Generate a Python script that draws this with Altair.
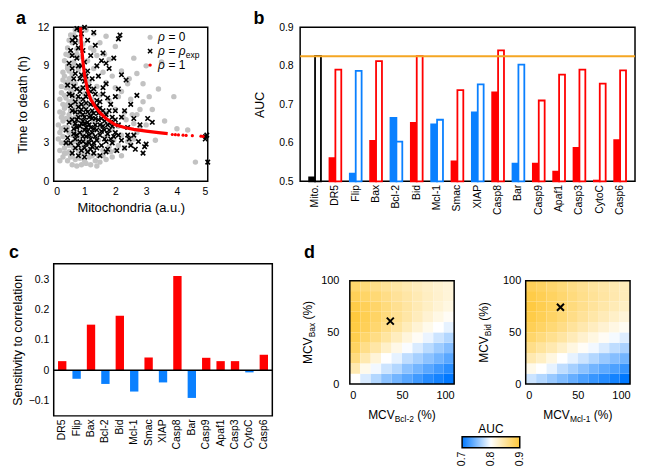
import altair as alt
import pandas as pd

FONT = "Liberation Sans"
RED = "#ff0000"
BLUE = "#0a80ff"
GRAY = "#c2c2c2"
ORANGE = "#f5a623"
HM_BLUE = "#0078ff"
HM_GOLD = "#ffc83a"
XPATH = "M-1,-1L1,1M-1,1L1,-1"

# ---------------- panel a data ----------------
gray_points = [
    (0.45, 1.6), (0.6, 1.3), (0.75, 1.2), (0.9, 1.3), (1.05, 1.4), (1.2, 1.3), (1.35, 1.6), (1.5, 1.5),
    (1.7, 1.7), (0.3, 1.9), (0.55, 1.9), (0.85, 1.8), (1.15, 1.9), (1.45, 2.0), (1.9, 1.9), (2.2, 2.0),
    (0.2, 2.4), (0.35, 2.6), (0.5, 2.3), (0.65, 2.6), (0.8, 2.4), (0.95, 2.7), (1.1, 2.4), (1.3, 2.7),
    (1.6, 2.4), (1.8, 2.7), (2.0, 2.4), (2.3, 2.6), (2.5, 2.9),
    (0.15, 3.3), (0.3, 3.5), (0.45, 3.1), (0.6, 3.6), (0.75, 3.2), (0.9, 3.7), (1.05, 3.3), (1.25, 3.6),
    (1.45, 3.2), (1.7, 3.5), (1.95, 3.2), (2.2, 3.6), (2.45, 3.4), (2.7, 3.8),
    (0.15, 4.4), (0.3, 4.7), (0.45, 4.2), (0.6, 4.6), (0.75, 4.3), (0.9, 4.8), (1.1, 4.4), (1.3, 4.7),
    (1.55, 4.3), (1.8, 4.6), (2.1, 4.3), (2.35, 4.8), (2.6, 4.5),
    (0.2, 5.4), (0.35, 5.7), (0.5, 5.2), (0.65, 5.6), (0.8, 5.3), (1.0, 5.8), (1.2, 5.4), (1.45, 5.7),
    (1.7, 5.3), (2.0, 5.6), (2.3, 5.4), (2.7, 5.2),
    (0.2, 6.4), (0.35, 6.7), (0.5, 6.2), (0.65, 6.6), (0.8, 6.3), (1.0, 6.8), (1.25, 6.4), (1.5, 6.7),
    (1.8, 6.3), (2.1, 6.6), (2.5, 6.4), (2.9, 6.2),
    (0.25, 7.4), (0.4, 7.7), (0.55, 7.2), (0.7, 7.6), (0.9, 7.3), (1.15, 7.8), (1.4, 7.4), (1.7, 7.7),
    (2.0, 7.3), (2.4, 7.6),
    (0.3, 8.5), (0.45, 8.8), (0.6, 8.3), (0.8, 8.7), (1.0, 8.4), (1.3, 8.8), (1.6, 8.5), (2.2, 8.6), (2.7, 8.4),
    (0.35, 9.4), (0.5, 9.8), (0.65, 9.3), (0.85, 9.7), (1.1, 9.4), (1.4, 9.8), (1.8, 9.5), (2.6, 9.6),
    (0.45, 10.4), (0.6, 10.8), (0.75, 10.3), (0.95, 10.7), (1.2, 10.4), (1.5, 10.8), (2.0, 10.5),
    (0.55, 11.4), (0.7, 11.8), (0.9, 11.3), (1.05, 11.8), (1.3, 11.5), (1.7, 11.3),
    (3.0, 4.4), (3.2, 5.6), (3.4, 7.2), (3.0, 9.0), (3.5, 9.3), (3.3, 3.2), (3.6, 4.7), (3.9, 6.6),
    (4.0, 4.1), (4.35, 4.0), (4.6, 1.5), (2.9, 7.6), (3.1, 6.6), (2.8, 5.6),
    (0.25, 3.0), (0.4, 4.0), (0.55, 4.9), (0.7, 5.0), (0.4, 5.9), (0.55, 6.9), (0.3, 6.0), (0.7, 3.9),
    (0.85, 2.1), (1.0, 2.2), (0.6, 2.0), (0.35, 4.2),
    (0.25, 5.0), (0.4, 6.5), (0.3, 7.9), (0.5, 8.0), (0.45, 9.0), (0.6, 7.0), (0.75, 6.0), (0.35, 3.0),
    (0.5, 3.8), (0.65, 4.4), (0.2, 3.8), (0.4, 2.2), (0.7, 1.7), (1.0, 1.6), (1.25, 2.0), (0.55, 10.0),
    (0.2, 1.6), (0.35, 2.2), (0.5, 2.8), (0.65, 3.1), (0.8, 3.5), (0.95, 4.0), (1.1, 3.0), (0.25, 4.1),
    (0.4, 4.9), (0.55, 5.5), (0.7, 6.0), (0.3, 5.3), (0.45, 6.0), (0.6, 6.3), (0.25, 6.9), (0.4, 7.3),
    (0.55, 7.7), (0.35, 8.2), (0.5, 8.6), (0.65, 9.0), (0.4, 9.9), (0.75, 9.9), (0.85, 10.9), (0.65, 11.4),
    (0.5, 11.0), (1.4, 1.2), (1.6, 2.0), (1.85, 2.3), (2.1, 2.8), (2.4, 3.1), (2.6, 3.3), (2.8, 4.2),
    (2.55, 5.2), (2.25, 5.0), (1.9, 4.1), (2.2, 7.0), (2.45, 8.0), (1.9, 8.2), (1.65, 9.9), (1.3, 10.2),
]
cross_points = [
    (0.45, 3.4), (0.5, 4.6), (0.5, 6.8), (0.55, 3.0), (0.6, 5.5), (0.6, 8.8), (0.65, 4.1), (0.65, 7.4),
    (0.7, 3.3), (0.7, 6.2), (0.75, 4.8), (0.75, 9.6), (0.8, 2.8), (0.8, 5.8), (0.8, 10.4), (0.85, 3.8),
    (0.85, 7.0), (0.85, 11.8), (0.9, 4.5), (0.9, 2.4), (0.9, 9.0), (0.95, 5.2), (0.95, 6.4), (0.95, 3.1),
    (1.0, 4.0), (1.0, 7.8), (1.0, 2.6), (1.05, 5.6), (1.05, 3.5), (1.1, 4.6), (1.1, 6.8), (1.1, 8.6),
    (1.15, 3.0), (1.15, 5.0), (1.2, 4.2), (1.2, 6.0), (1.2, 9.8), (1.25, 2.7), (1.25, 3.8), (1.3, 5.3),
    (1.3, 7.2), (1.35, 4.4), (1.35, 10.6), (1.4, 3.2), (1.4, 6.3), (1.45, 4.8), (1.45, 8.2), (1.5, 3.6),
    (1.5, 5.7), (1.55, 2.8), (1.55, 9.4), (1.6, 4.3), (1.6, 6.8), (1.65, 3.3), (1.7, 5.2), (1.7, 7.6),
    (1.75, 2.5), (1.8, 4.0), (1.8, 8.8), (1.85, 6.0), (1.9, 3.0), (1.9, 5.0), (1.95, 9.6), (2.0, 3.8),
    (2.0, 6.6), (2.05, 2.4), (2.1, 4.4), (2.1, 7.2), (2.15, 11.4), (2.1, 11.1), (2.2, 3.2), (2.2, 8.3),
    (2.3, 5.5), (2.3, 2.6), (2.35, 7.9), (2.4, 4.2), (2.45, 3.3), (2.5, 2.8), (2.5, 6.0), (2.6, 3.6),
    (2.6, 4.9), (2.65, 2.5), (2.7, 6.7), (2.75, 3.1), (2.8, 4.4), (2.9, 2.2), (2.95, 2.7), (3.0, 2.9),
    (3.05, 4.9), (3.2, 4.6), (4.93, 3.5), (4.92, 3.3), (4.97, 3.6), (5.0, 1.5),
    (0.5, 9.2), (0.55, 10.2), (0.6, 11.0), (0.7, 10.8), (0.75, 11.9), (0.9, 11.5), (1.0, 12.0),
    (0.6, 9.8), (0.65, 8.0), (1.1, 11.0), (1.3, 11.6), (1.4, 9.0), (1.6, 10.0), (1.7, 9.2), (0.45, 7.5),
    (0.6, 2.2), (0.8, 2.0), (1.0, 1.9), (1.3, 2.2), (1.5, 2.0), (1.7, 2.3), (1.1, 2.3), (0.7, 2.6),
    (0.4, 3.0), (0.4, 4.0),
    (0.75, 3.6), (0.85, 4.3), (0.95, 4.7), (1.05, 4.2), (1.15, 3.6), (1.25, 4.9), (1.35, 3.5), (0.9, 5.6),
    (1.0, 5.0), (1.1, 5.4), (1.2, 3.3), (1.3, 4.1), (0.8, 6.6), (0.7, 5.4), (1.4, 5.9), (1.55, 4.9),
    (1.65, 4.0), (1.75, 3.7), (1.85, 4.6), (1.95, 3.5), (0.6, 4.8), (0.55, 5.9), (0.95, 7.3), (1.05, 8.2),
    (0.7, 8.4), (0.85, 8.0), (1.15, 7.4), (1.25, 8.0),
    (0.75, 4.2), (0.8, 5.0), (0.85, 5.4), (0.9, 6.0), (0.95, 3.5), (1.0, 4.5), (1.05, 6.1), (1.1, 3.9),
    (1.15, 4.4), (1.2, 5.1), (1.25, 5.5), (1.3, 3.0), (1.35, 4.9), (1.4, 4.0), (1.45, 5.3), (1.5, 4.4),
    (1.55, 3.9), (1.6, 5.5), (1.65, 4.7), (1.7, 3.1), (1.75, 4.4), (1.8, 5.5), (1.85, 3.3), (1.9, 4.3),
    (2.0, 4.8), (2.1, 3.6), (2.2, 5.0), (2.4, 3.6), (0.65, 3.7), (0.7, 4.5), (0.6, 6.7), (0.75, 7.2),
    (0.9, 8.3), (1.0, 9.3), (0.8, 9.0), (0.7, 11.2), (0.95, 10.2), (1.05, 6.6), (1.2, 7.0), (1.35, 6.8),
    (1.5, 6.2), (1.6, 7.3), (1.75, 6.5), (2.0, 5.5), (0.85, 3.1), (1.05, 2.9), (1.2, 2.5), (1.4, 2.6),
]
curve_x = [0.87, 0.9, 0.95, 1.0, 1.1, 1.2, 1.35, 1.5, 1.7, 2.0, 2.3, 2.6, 3.0, 3.4, 3.7]
curve_y = [12.0, 10.6, 9.3, 8.3, 7.1, 6.4, 5.8, 5.35, 4.9, 4.4, 4.2, 4.05, 3.92, 3.8, 3.72]
dots_x = [3.85, 3.95, 4.05, 4.2, 4.3, 4.5, 4.78, 4.85]
dots_y = [3.65, 3.64, 3.62, 3.6, 3.58, 3.56, 3.52, 3.5]
mito_ticks = [0, 1, 2, 3, 4, 5]
death_ticks = [0, 3, 6, 9, 12]

# ---------------- panel b data ----------------
cats = ["Mito.", "DR5", "Flip", "Bax", "Bcl-2", "Bid", "Mcl-1", "Smac", "XIAP", "Casp8",
        "Bar", "Casp9", "Apaf1", "Casp3", "CytoC", "Casp6"]
cat_groups = ["mito", "red", "blue", "red", "blue", "red", "blue", "red", "blue", "red",
              "blue", "red", "red", "red", "red", "red"]
auc_filled = [0.51, 0.56, 0.52, 0.605, 0.665, 0.652, 0.648, 0.552, 0.679, 0.731,
              0.546, 0.546, 0.525, 0.587, 0.502, 0.607]
auc_open = [0.826, 0.79, 0.787, 0.812, 0.603, 0.825, 0.66, 0.737, 0.752, 0.84,
            0.803, 0.71, 0.777, 0.79, 0.754, 0.788]
auc_mito_ref = 0.825
auc_axis_ticks = [0.5, 0.6, 0.7, 0.8, 0.9]

# ---------------- panel c data ----------------
sens_cats = cats[1:]
sens_vals = [0.03, -0.028, 0.15, -0.045, 0.179, -0.07, 0.042, -0.04, 0.31, -0.091,
             0.041, 0.03, 0.03, -0.007, 0.051]
sens_ticks = [-0.1, 0, 0.1, 0.2, 0.3]

# ---------------- panel d data ----------------
mcv_edges = [0, 10, 20, 30, 40, 50, 60, 70, 80, 90, 100]
mcv_ticks = [0, 50, 100]
# each inner list: one column (x cell), values from bottom (y 0-10) to top (y 90-100)
hm_bcl2_bax = [
    [0.80, 0.84, 0.865, 0.88, 0.89, 0.895, 0.898, 0.893, 0.885, 0.875],
    [0.785, 0.81, 0.84, 0.86, 0.875, 0.885, 0.888, 0.885, 0.877, 0.868],
    [0.77, 0.795, 0.82, 0.845, 0.862, 0.873, 0.878, 0.876, 0.87, 0.86],
    [0.755, 0.78, 0.80, 0.828, 0.848, 0.86, 0.866, 0.866, 0.861, 0.853],
    [0.745, 0.77, 0.79, 0.812, 0.833, 0.848, 0.855, 0.856, 0.852, 0.846],
    [0.735, 0.755, 0.775, 0.798, 0.818, 0.835, 0.845, 0.847, 0.845, 0.84],
    [0.725, 0.745, 0.765, 0.785, 0.805, 0.822, 0.834, 0.838, 0.838, 0.834],
    [0.715, 0.735, 0.755, 0.773, 0.792, 0.81, 0.823, 0.83, 0.831, 0.829],
    [0.708, 0.725, 0.745, 0.762, 0.78, 0.80, 0.813, 0.822, 0.825, 0.824],
    [0.70, 0.716, 0.735, 0.752, 0.77, 0.79, 0.805, 0.815, 0.82, 0.82],
]
hm_mcl1_bid = [
    [0.78, 0.81, 0.84, 0.86, 0.875, 0.886, 0.893, 0.896, 0.893, 0.885],
    [0.77, 0.80, 0.83, 0.85, 0.866, 0.878, 0.886, 0.889, 0.887, 0.88],
    [0.76, 0.79, 0.815, 0.84, 0.857, 0.87, 0.878, 0.882, 0.88, 0.874],
    [0.75, 0.775, 0.80, 0.828, 0.847, 0.861, 0.87, 0.874, 0.873, 0.868],
    [0.74, 0.765, 0.79, 0.815, 0.836, 0.851, 0.861, 0.866, 0.866, 0.862],
    [0.73, 0.755, 0.78, 0.804, 0.825, 0.841, 0.852, 0.858, 0.859, 0.856],
    [0.722, 0.745, 0.77, 0.795, 0.815, 0.832, 0.844, 0.851, 0.853, 0.85],
    [0.715, 0.737, 0.76, 0.785, 0.805, 0.823, 0.836, 0.844, 0.847, 0.845],
    [0.708, 0.73, 0.752, 0.775, 0.796, 0.814, 0.828, 0.837, 0.841, 0.84],
    [0.70, 0.722, 0.745, 0.767, 0.787, 0.806, 0.82, 0.83, 0.835, 0.835],
]
exp_bcl2_bax = (38.8, 60.9)
exp_mcl1_bid = (33.3, 74.3)
auc_ticks = [0.7, 0.8, 0.9]


def txt(s, x, y, size=12, style="normal", weight="normal", angle=0, align="left",
        baseline="alphabetic", opacity=1):
    return alt.Chart(pd.DataFrame({"t": [s]})).mark_text(
        font=FONT, fontSize=size, fontStyle=style, fontWeight=weight, angle=angle,
        align=align, baseline=baseline, color="black", opacity=opacity
    ).encode(x=alt.value(x), y=alt.value(y), text="t:N")


def one_row():
    return pd.DataFrame({"k": [0]})


def qaxis(vals, **kw):
    return alt.Axis(values=vals, tickCount=len(vals), labelOverlap=False, **kw)


# ---------------- panel a ----------------
sx_a = alt.Scale(domain=[0, 5], nice=False)
sy_a = alt.Scale(domain=[0, 12], nice=False)
df_gray = pd.DataFrame(gray_points, columns=["x", "y"])
df_cross = pd.DataFrame(cross_points, columns=["x", "y"])
df_curve = pd.DataFrame({"x": curve_x, "y": curve_y})
df_dots = pd.DataFrame({"x": dots_x, "y": dots_y})

a_gray = alt.Chart(df_gray).mark_circle(size=30, color=GRAY, opacity=1).encode(
    x=alt.X("x:Q", scale=sx_a, axis=qaxis(mito_ticks, title="Mitochondria (a.u.)", labelPadding=5,
                                          titlePadding=5, titleFontSize=13)),
    y=alt.Y("y:Q", scale=sy_a, axis=qaxis(death_ticks, title="Time to death (h)", labelPadding=5,
                                          titlePadding=8, titleFontSize=13)),
)
a_cross = alt.Chart(df_cross).mark_point(shape=XPATH, size=20, color="black", strokeWidth=1.6,
                                         opacity=1, filled=False).encode(x="x:Q", y="y:Q")
a_curve = alt.Chart(df_curve).mark_line(color=RED, strokeWidth=3.2).encode(x="x:Q", y="y:Q")
a_dots = alt.Chart(df_dots).mark_circle(size=10, color=RED, opacity=1).encode(x="x:Q", y="y:Q")

leg_a = [
    alt.Chart(one_row()).mark_circle(size=26, color=GRAY, opacity=1).encode(x=alt.value(97), y=alt.value(10)),
    alt.Chart(one_row()).mark_point(shape=XPATH, size=18, color="black", strokeWidth=1.5, opacity=1,
                                    filled=False).encode(x=alt.value(97), y=alt.value(24)),
    alt.Chart(one_row()).mark_circle(size=12, color=RED, opacity=1).encode(x=alt.value(97), y=alt.value(38)),
    txt("ρ", 105, 14, style="italic"), txt("= 0", 115.5, 14),
    txt("ρ", 105, 28, style="italic"), txt("=", 115.5, 28), txt("ρ", 125.8, 28, style="italic"),
    txt("exp", 133, 31, size=8.5),
    txt("ρ", 105, 42, style="italic"), txt("= 1", 115.5, 42),
    txt("a", -38, -3, size=18, weight="bold"),
    txt("a", -45, -3, size=18, weight="bold", opacity=0),
]
panel_a = alt.layer(a_gray, a_cross, a_curve, a_dots, *leg_a).properties(width=155, height=155)

# ---------------- panel b ----------------
rows_b = []
for c, g, f, o in zip(cats, cat_groups, auc_filled, auc_open):
    rows_b.append({"cat": c, "kind": "filled", "v": f, "grp": g, "fk": g + "_filled"})
    rows_b.append({"cat": c, "kind": "open", "v": o, "grp": g, "fk": g + "_open"})
df_b = pd.DataFrame(rows_b)
fk_domain = ["mito_filled", "mito_open", "red_filled", "red_open", "blue_filled", "blue_open"]
fk_range = ["black", "white", RED, "white", BLUE, "white"]

b_bars = alt.Chart(df_b).mark_bar(strokeWidth=1.8).encode(
    x=alt.X("cat:N", sort=cats, scale=alt.Scale(paddingInner=0.42, paddingOuter=0.443),
            axis=alt.Axis(title=None, labelAngle=-90, labelPadding=3)),
    xOffset=alt.XOffset("kind:N", sort=["filled", "open"], scale=alt.Scale(paddingInner=0, paddingOuter=0)),
    y=alt.Y("v:Q", scale=alt.Scale(domain=[0.5, 0.9], nice=False, zero=False),
            axis=qaxis(auc_axis_ticks, format=".1f", title="AUC", labelPadding=7, titlePadding=12,
                       titleFontSize=12.5)),
    y2=alt.datum(0.5),
    fill=alt.Fill("fk:N", scale=alt.Scale(domain=fk_domain, range=fk_range), legend=None),
    stroke=alt.Stroke("grp:N", scale=alt.Scale(domain=["mito", "red", "blue"], range=["black", RED, BLUE]),
                      legend=None),
)
b_rule = alt.Chart(one_row()).mark_rule(color=ORANGE, strokeWidth=2).encode(y=alt.datum(auc_mito_ref))
panel_b = alt.layer(b_bars, b_rule, txt("b", -47, -3, size=18, weight="bold")).properties(width=337, height=155)

# ---------------- panel c ----------------
df_c = pd.DataFrame({"cat": sens_cats, "v": sens_vals})
c_bars = alt.Chart(df_c).mark_bar().encode(
    x=alt.X("cat:N", sort=sens_cats, scale=alt.Scale(paddingInner=0.42, paddingOuter=0.30),
            axis=alt.Axis(title=None, labelAngle=-90, labelPadding=3)),
    y=alt.Y("v:Q", scale=alt.Scale(domain=[-0.15, 0.35], nice=False),
            axis=qaxis(sens_ticks, format="~g", title="Sensitivity to correlation",
                       labelPadding=5, titlePadding=4, titleFontSize=12.5)),
    color=alt.condition("datum.v > 0", alt.value(RED), alt.value(BLUE)),
)
c_zero = alt.Chart(one_row()).mark_rule(color="black", strokeWidth=1.5).encode(y=alt.datum(0))
panel_c = alt.layer(c_bars, c_zero, txt("c", -45, -6, size=18, weight="bold")).properties(width=220, height=153)

# ---------------- panel d ----------------
hm_scale = dict(domain=[0.7, 0.8, 0.9], range=[HM_BLUE, "#ffffff", HM_GOLD], interpolate="rgb", clamp=True)


def heat_df(cols):
    rows = []
    for j, col in enumerate(cols):
        for i, v in enumerate(col):
            rows.append({"x0": mcv_edges[j], "x1": mcv_edges[j + 1],
                         "y0": mcv_edges[i], "y1": mcv_edges[i + 1], "v": v})
    return pd.DataFrame(rows)


def heat_panel(cols, exp_pt, xsub, xsub_w, ysub, ysub_w, with_legend, letter, xoff):
    sx = alt.Scale(domain=[0, 100], nice=False, range=[xoff, xoff + 105])
    sy = alt.Scale(domain=[0, 100], nice=False, range=[121, 17])
    if with_legend:
        leg = alt.Legend(type="gradient", orient="none", legendX=113 + xoff, legendY=174,
                         direction="horizontal", gradientLength=58, gradientThickness=11,
                         gradientStrokeColor="black", gradientStrokeWidth=1.5, values=auc_ticks,
                         labelOpacity=0, title=None, padding=0)
    else:
        leg = None
    cells = alt.Chart(heat_df(cols)).mark_rect().encode(
        x=alt.X("x0:Q", scale=sx, axis=qaxis(mcv_ticks, title=None, labelPadding=6, labelFontSize=11)),
        x2="x1:Q",
        y=alt.Y("y0:Q", scale=sy, axis=qaxis(mcv_ticks, title=None, labelPadding=5, labelFontSize=11)),
        y2="y1:Q",
        color=alt.Color("v:Q", scale=alt.Scale(**hm_scale), legend=leg),
    )
    frame = alt.Chart(pd.DataFrame({"a": [0], "b": [100]})).mark_rect(
        filled=False, color="black", strokeWidth=1.5).encode(
        x=alt.X("a:Q", title=None), x2="b:Q", y=alt.Y("a:Q", title=None), y2="b:Q")
    mark = alt.Chart(pd.DataFrame({"x": [exp_pt[0]], "y": [exp_pt[1]]})).mark_point(
        shape=XPATH, size=50, strokeWidth=2, color="black", opacity=1, filled=False).encode(
        x=alt.X("x:Q", title=None), y=alt.Y("y:Q", title=None))
    x0 = xoff + 52.5 - (26.7 + xsub_w + 3.3 + 18.7) / 2
    yb = 69 + (26.7 + ysub_w + 3.3 + 18.7) / 2
    texts = [
        txt("MCV", x0, 156), txt(xsub, x0 + 26.7, 159.5, size=8.5), txt("(%)", x0 + 26.7 + xsub_w + 3.3, 156),
        txt("MCV", xoff - 38, yb, angle=270), txt(ysub, xoff - 35, yb - 26.7, size=8.5, angle=270),
        txt("(%)", xoff - 38, yb - 26.7 - ysub_w - 3.3, angle=270),
    ]
    if with_legend:
        texts.append(txt("AUC", xoff + 142, 170, align="center"))
        for k, tv in enumerate(auc_ticks):
            texts.append(txt(f"{tv:.1f}", xoff + 113 + 29 * k, 189, size=10.5, angle=270,
                             align="right", baseline="middle"))
    if letter:
        texts.append(txt(letter, xoff - 46, -6, size=18, weight="bold"))
    return alt.layer(cells, frame, mark, *texts).properties(
        width=105 + xoff, height=121, view=alt.ViewBackground(stroke="transparent"))


d1 = heat_panel(hm_bcl2_bax, exp_bcl2_bax, "Bcl-2", 19.4, "Bax", 14.7, True, "d", 6)
d2 = heat_panel(hm_mcl1_bid, exp_mcl1_bid, "Mcl-1", 20.8, "Bid", 12.3, False, None, 0)

ind = dict(color="independent", stroke="independent", fill="independent")
top = alt.hconcat(panel_a, panel_b, spacing=93, bounds="flush").resolve_scale(**ind)
bottom = alt.hconcat(panel_c, d1, d2, spacing=72, bounds="flush").resolve_scale(**ind)
chart = alt.vconcat(top, bottom, spacing=27).resolve_scale(**ind).properties(
    padding=0
).configure(font=FONT).configure_view(stroke="black", strokeWidth=1.5).configure_axis(
    domain=False, ticks=False, tickSize=0, grid=False, labelOverlap=False, labelFont=FONT, titleFont=FONT,
    labelFontSize=10.5, titleFontSize=12, labelColor="black", titleColor="black", titleFontWeight="normal"
).configure_legend(labelFont=FONT, labelColor="black")

chart.save("out.html", embed_options={"renderer": "svg", "actions": False})
